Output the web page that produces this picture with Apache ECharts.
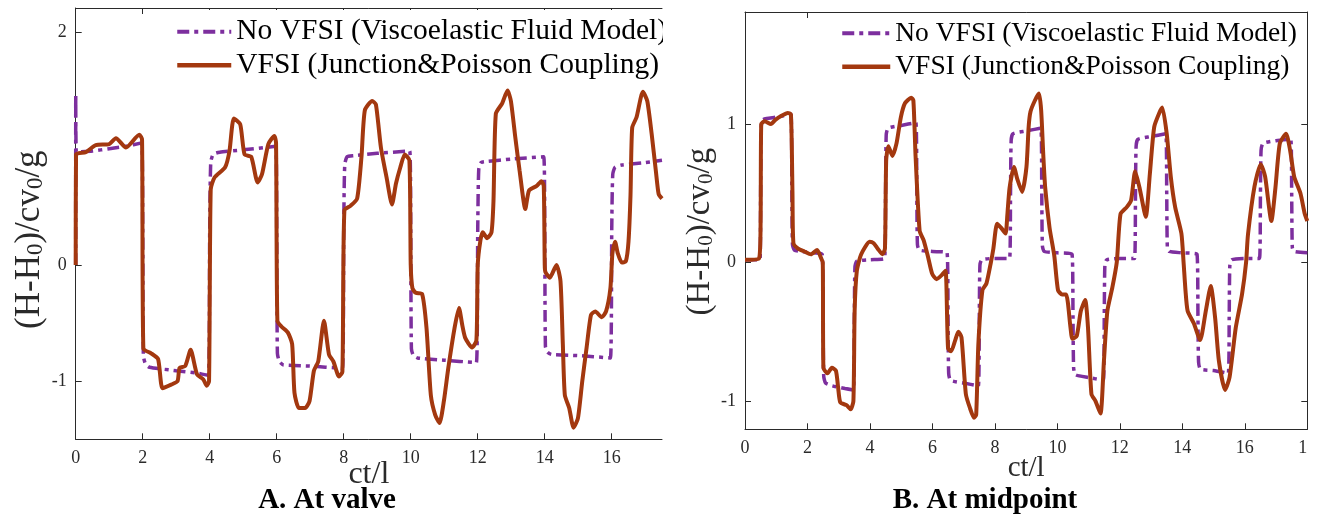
<!DOCTYPE html>
<html><head><meta charset="utf-8">
<script src="https://cdn.jsdelivr.net/npm/echarts@6/dist/echarts.min.js"></script>
<style>html,body{margin:0;padding:0;background:#fff}#c{width:1318px;height:520px}</style>
</head><body><div id="c"></div>
<script>
// ---- data: [ct/l, (H-H0)/cv0/g] ----
const seriesNames = ['No VFSI (Viscoelastic Fluid Model)', 'VFSI (Junction&Poisson Coupling)'];
const panelTitles = ['A. At valve', 'B. At midpoint'];
const xTicksValve = [0, 2, 4, 6, 8, 10, 12, 14, 16];
const xTicksMid = [0, 2, 4, 6, 8, 10, 12, 14, 16, 18];
const yTicksValve = [-1, 0, 2];
const yTicksMid = [-1, 0, 1];

const valveNoVfsi = [[0,0],[0.001,1.47],[0.02,0.97],[0.5,0.98],[1.0,1.0],[1.5,1.02],[1.97,1.05],
 [2.0,0.3],[2.02,-0.78],[2.08,-0.85],[2.2,-0.88],[3.0,-0.91],[3.6,-0.93],[3.96,-0.95],
 [4.0,0.3],[4.03,0.88],[4.1,0.95],[4.3,0.97],[5.0,0.99],[5.97,1.02],
 [6.0,0.3],[6.02,-0.76],[6.08,-0.83],[6.2,-0.86],[7.0,-0.87],[7.96,-0.89],
 [8.0,0.3],[8.03,0.86],[8.1,0.93],[8.3,0.94],[9.0,0.96],[9.97,0.98],
 [10.0,0.3],[10.02,-0.72],[10.08,-0.78],[10.2,-0.8],[11.0,-0.82],[11.96,-0.84],
 [12.0,0.3],[12.03,0.82],[12.1,0.88],[12.3,0.89],[13.0,0.91],[13.97,0.93],
 [14.0,0.3],[14.02,-0.7],[14.08,-0.75],[14.2,-0.77],[15.0,-0.78],[15.96,-0.8],
 [16.0,0.3],[16.03,0.78],[16.1,0.84],[16.3,0.86],[17.0,0.88],[17.5,0.9]];

const valveVfsi = [[0,0],[0.01,0.95],[0.3,0.97],[0.6,1.03],[1.0,1.04],[1.2,1.09],[1.5,1.01],[1.9,1.12],[1.98,1.08],
 [2.02,-0.72],[2.25,-0.76],[2.46,-0.81],[2.59,-1.06],[2.85,-1.03],[3.04,-1.0],[3.1,-0.885],[3.27,-0.87],[3.43,-0.73],[3.62,-0.94],[3.81,-0.985],[3.91,-1.04],[3.98,-1.0],
 [4.03,0.65],[4.14,0.75],[4.46,0.84],[4.59,0.98],[4.72,1.26],[4.91,1.21],[5.04,0.95],[5.24,0.93],[5.43,0.71],[5.56,0.78],[5.75,1.04],[5.93,1.11],[5.98,1.05],
 [6.02,-0.48],[6.14,-0.53],[6.33,-0.58],[6.46,-0.68],[6.53,-1.1],[6.66,-1.23],[6.85,-1.23],[6.98,-1.17],[7.11,-0.91],[7.24,-0.83],[7.41,-0.48],[7.56,-0.77],[7.69,-0.83],[7.86,-0.96],[7.96,-0.92],
 [8.02,0.47],[8.21,0.51],[8.4,0.57],[8.53,0.93],[8.63,1.33],[8.85,1.41],[8.96,1.38],[9.11,1.01],[9.28,0.75],[9.44,0.52],[9.56,0.7],[9.69,0.84],[9.82,0.95],[9.96,0.9],
 [10.0,0.0],[10.05,-0.2],[10.15,-0.24],[10.34,-0.25],[10.47,-0.54],[10.6,-1.12],[10.73,-1.29],[10.86,-1.36],[10.99,-1.17],[11.12,-0.89],[11.31,-0.54],[11.44,-0.37],[11.54,-0.52],[11.63,-0.63],[11.83,-0.71],[11.96,-0.65],
 [12.0,0.0],[12.08,0.21],[12.15,0.28],[12.28,0.23],[12.41,0.28],[12.47,0.55],[12.54,1.3],[12.73,1.39],[12.89,1.5],[12.99,1.41],[13.12,1.1],[13.25,0.81],[13.42,0.48],[13.53,0.64],[13.76,0.68],[13.9,0.72],[13.97,0.68],
 [14.0,0.0],[14.02,-0.06],[14.15,-0.11],[14.35,0.0],[14.47,-0.14],[14.54,-0.68],[14.6,-1.12],[14.73,-1.23],[14.86,-1.4],[14.99,-1.32],[15.12,-1.0],[15.25,-0.71],[15.38,-0.43],[15.51,-0.4],[15.7,-0.45],[15.83,-0.4],[15.96,-0.2],
 [16.02,0.1],[16.1,0.2],[16.18,0.1],[16.3,0.02],[16.42,0.03],[16.5,0.2],[16.56,0.6],[16.61,1.18],[16.74,1.27],[16.93,1.49],[17.06,1.41],[17.19,1.13],[17.32,0.8],[17.4,0.61],[17.5,0.57]];

const midNoVfsi = [[0,0.02],[0.48,0.02],[0.5,0.5],[0.52,0.98],[0.56,1.03],[0.7,1.04],[1.0,1.05],[1.47,1.07],
 [1.5,0.5],[1.52,0.13],[1.58,0.09],[1.8,0.08],[2.2,0.07],[2.47,0.06],
 [2.5,-0.4],[2.52,-0.82],[2.58,-0.87],[2.8,-0.89],[3.2,-0.91],[3.47,-0.92],
 [3.5,-0.4],[3.52,-0.03],[3.58,0.01],[4.0,0.02],[4.47,0.03],
 [4.5,0.5],[4.52,0.92],[4.58,0.97],[5.0,0.99],[5.47,1.01],
 [5.5,0.5],[5.52,0.13],[5.58,0.09],[6.0,0.08],[6.47,0.07],
 [6.5,-0.4],[6.52,-0.8],[6.58,-0.85],[7.0,-0.87],[7.47,-0.89],
 [7.5,-0.4],[7.52,-0.02],[7.58,0.02],[8.0,0.03],[8.47,0.03],
 [8.5,0.5],[8.52,0.88],[8.58,0.93],[9.0,0.95],[9.47,0.97],
 [9.5,0.5],[9.52,0.12],[9.58,0.08],[10.0,0.07],[10.47,0.06],
 [10.5,-0.4],[10.52,-0.76],[10.58,-0.81],[11.0,-0.83],[11.47,-0.85],
 [11.5,-0.4],[11.52,-0.02],[11.58,0.02],[12.0,0.03],[12.47,0.03],
 [12.5,0.5],[12.52,0.84],[12.58,0.89],[13.0,0.91],[13.47,0.93],
 [13.5,0.5],[13.52,0.11],[13.58,0.08],[14.0,0.07],[14.47,0.06],
 [14.5,-0.4],[14.52,-0.72],[14.58,-0.77],[15.0,-0.78],[15.47,-0.8],
 [15.5,-0.4],[15.52,-0.02],[15.58,0.02],[16.0,0.03],[16.47,0.03],
 [16.5,0.5],[16.52,0.81],[16.58,0.86],[17.0,0.88],[17.47,0.89],
 [17.5,0.5],[17.52,0.11],[17.58,0.08],[18.0,0.07]];

const midVfsi = [[0,0.02],[0.45,0.03],[0.5,0.3],[0.52,1.0],[0.63,1.02],[0.83,1.0],[0.97,1.03],[1.17,1.06],[1.37,1.08],[1.47,1.07],
 [1.52,0.5],[1.55,0.14],[1.7,0.1],[1.9,0.08],[2.11,0.06],[2.31,0.09],[2.44,0.03],[2.49,0.0],
 [2.51,-0.76],[2.64,-0.8],[2.78,-0.76],[2.91,-0.78],[2.98,-0.9],[3.05,-1.01],[3.25,-1.03],[3.38,-1.06],[3.47,-1.0],
 [3.51,-0.35],[3.58,-0.06],[3.72,0.06],[3.99,0.15],[4.12,0.14],[4.25,0.1],[4.4,0.06],[4.48,0.1],
 [4.52,0.74],[4.59,0.84],[4.72,0.77],[4.85,0.86],[4.99,1.05],[5.12,1.15],[5.32,1.19],[5.39,1.17],[5.46,0.77],[5.59,0.23],[5.72,0.16],[5.86,0.04],[5.99,-0.08],[6.13,-0.12],[6.3,-0.09],[6.42,-0.06],
 [6.5,-0.62],[6.6,-0.64],[6.73,-0.56],[6.83,-0.5],[6.93,-0.54],[7.07,-0.95],[7.2,-1.05],[7.33,-1.12],[7.4,-1.1],[7.47,-0.59],[7.6,-0.2],[7.73,-0.15],[7.87,0.0],[7.95,0.1],
 [8.07,0.28],[8.2,0.25],[8.34,0.21],[8.4,0.35],[8.47,0.54],[8.61,0.69],[8.72,0.6],[8.87,0.51],[9.01,0.69],[9.08,0.98],[9.14,1.09],[9.28,1.17],[9.41,1.22],[9.48,1.1],[9.55,0.77],[9.61,0.54],[9.75,0.25],[9.9,0.05],
 [10.02,-0.2],[10.15,-0.23],[10.28,-0.23],[10.42,-0.47],[10.48,-0.55],[10.62,-0.53],[10.75,-0.35],[10.89,-0.27],[10.98,-0.47],[11.09,-0.95],[11.22,-1.0],[11.38,-1.09],[11.49,-0.71],[11.6,-0.35],[11.76,-0.18],[11.9,0.0],
 [12.02,0.35],[12.22,0.4],[12.36,0.45],[12.49,0.66],[12.63,0.54],[12.83,0.33],[12.96,0.64],[13.1,0.98],[13.3,1.1],[13.36,1.12],[13.5,0.93],[13.63,0.62],[13.77,0.4],[13.97,0.21],
 [14.04,0.0],[14.1,-0.2],[14.17,-0.35],[14.37,-0.44],[14.57,-0.56],[14.75,-0.35],[14.91,-0.17],[15.05,-0.4],[15.17,-0.71],[15.37,-0.92],[15.51,-0.83],[15.71,-0.47],[15.91,-0.23],
 [16.04,0.0],[16.1,0.2],[16.31,0.55],[16.51,0.71],[16.65,0.62],[16.85,0.3],[16.98,0.54],[17.12,0.86],[17.32,0.93],[17.45,0.81],[17.58,0.62],[17.78,0.5],[17.92,0.35],[18.0,0.3]];

// ---- styling ----
const F = "'Liberation Serif','Times New Roman',serif";
const AX = '#2a2a2a';
const PURPLE = '#7D2F9E';
const BROWN = '#A3380F';
const PURPLE_DASH = [12, 5, 4, 5];

function yName(main, sub) {
  return {
    fontFamily: F, color: AX,
    rich: {
      m: { fontFamily: F, color: AX, fontSize: main, lineHeight: main + 5, verticalAlign: 'bottom' },
      s: { fontFamily: F, color: AX, fontSize: sub, lineHeight: sub, verticalAlign: 'bottom' }
    }
  };
}
const yNameText = '{m|(H-H}{s|0}{m|)/cv}{s|0}{m|/g}';

function xAx(grid, max, ticks, pos, nameGap, nameSize) {
  const a = {
    gridIndex: grid, type: 'value', min: 0, max: max, position: pos,
    axisLine: { show: true, onZero: false, lineStyle: { color: AX, width: 1 } },
    axisTick: { show: true, inside: true, length: 6, customValues: ticks, lineStyle: { color: AX, width: 1 } },
    axisLabel: { show: pos === 'bottom', customValues: ticks, margin: 10, fontFamily: F, fontSize: 18, color: AX },
    splitLine: { show: false }
  };
  if (pos === 'bottom') {
    a.name = 'ct/l'; a.nameLocation = 'middle'; a.nameGap = nameGap; a.nameMoveOverlap = false;
    a.nameTextStyle = { fontFamily: F, fontSize: nameSize, color: AX };
  }
  return a;
}
function yAx(grid, min, max, ticks, pos, nameGap, mainSize, subSize, shift) {
  const a = {
    gridIndex: grid, type: 'value', min: min, max: max, position: pos,
    axisLine: { show: true, onZero: false, lineStyle: { color: AX, width: 1 } },
    axisTick: { show: true, inside: true, length: 6, customValues: ticks, lineStyle: { color: AX, width: 1 } },
    axisLabel: { show: pos === 'left', customValues: ticks, margin: 9, fontFamily: F, fontSize: 18, color: AX },
    splitLine: { show: false }
  };
  if (pos === 'left') {
    a.name = yNameText; a.nameLocation = 'middle'; a.nameGap = nameGap; a.nameMoveOverlap = false;
    a.nameTextStyle = Object.assign(yName(mainSize, subSize), { padding: [0, shift, 0, 0] });
  }
  return a;
}
function lineSeries(name, data, xi, yi, color, width, dash, z) {
  return {
    type: 'line', name: name, data: data, xAxisIndex: xi, yAxisIndex: yi,
    symbol: 'none', showSymbol: false, smooth: 0.2, z: z,
    lineStyle: { color: color, width: width, type: dash },
    itemStyle: { color: color }, emphasis: { disabled: true }
  };
}
const legendIconStyle = { color: 'rgba(0,0,0,0)', borderColor: 'rgba(0,0,0,0)', borderWidth: 0, opacity: 0 };
const legendData = [
  { name: seriesNames[0], lineStyle: { color: PURPLE, width: 4, type: PURPLE_DASH } },
  { name: seriesNames[1], lineStyle: { color: BROWN, width: 4.5, type: 'solid' } }
];

const chart = echarts.init(document.getElementById('c'), null, { renderer: 'canvas' });
chart.setOption({
  animation: false,
  backgroundColor: '#fff',
  grid: [
    { left: 75.7, top: 8, width: 586.3, height: 431.3, outerBoundsMode: 'none' },
    { left: 745, top: 12, width: 562.3, height: 417.3, outerBoundsMode: 'none' }
  ],
  xAxis: [
    xAx(0, 17.5, xTicksValve, 'bottom', 19, 32),
    xAx(0, 17.5, xTicksValve, 'top'),
    xAx(1, 18, xTicksMid, 'bottom', 25, 29),
    xAx(1, 18, xTicksMid, 'top')
  ],
  yAxis: [
    yAx(0, -1.5, 2.21, yTicksValve, 'left', 28, 35, 23, 32),
    yAx(1, -1.204, 1.809, yTicksMid, 'left', 28, 33, 21, 22),
    yAx(1, -1.204, 1.809, yTicksMid, 'right')
  ],
  legend: [
    { orient: 'vertical', left: 171, top: 10, padding: [6.7, 4, 4, 4], backgroundColor: '#fff',
      itemWidth: 54, itemHeight: 14, itemGap: 3.5, selectedMode: false, data: legendData,
      itemStyle: legendIconStyle,
      textStyle: { fontFamily: F, fontSize: 29.5, color: '#000', lineHeight: 30 } },
    { orient: 'vertical', left: 836, top: 13, padding: [5.3, 2, 4, 4], backgroundColor: '#fff',
      itemWidth: 48, itemHeight: 14, itemGap: 3.5, selectedMode: false, data: legendData,
      itemStyle: legendIconStyle,
      textStyle: { fontFamily: F, fontSize: 27.5, color: '#000', lineHeight: 30 } }
  ],
  title: [
    { text: panelTitles[0], left: 327, top: 486, textAlign: 'center', padding: 0,
      textStyle: { fontFamily: F, fontSize: 29, fontWeight: 'bold', color: '#000' } },
    { text: panelTitles[1], left: 985, top: 486, textAlign: 'center', padding: 0,
      textStyle: { fontFamily: F, fontSize: 29, fontWeight: 'bold', color: '#000' } }
  ],
  graphic: [
    { type: 'rect', z: 100, shape: { x: 663, y: 0, width: 28, height: 100 }, style: { fill: '#fff' } },
    { type: 'rect', z: 100, shape: { x: 1307.8, y: 432, width: 11, height: 40 }, style: { fill: '#fff' } }
  ],
  series: [
    lineSeries(seriesNames[0], valveNoVfsi, 0, 0, PURPLE, 3.5, PURPLE_DASH, 2),
    lineSeries(seriesNames[1], valveVfsi, 0, 0, BROWN, 4, 'solid', 3),
    lineSeries(seriesNames[0], midNoVfsi, 2, 1, PURPLE, 3.5, PURPLE_DASH, 2),
    lineSeries(seriesNames[1], midVfsi, 2, 1, BROWN, 4, 'solid', 3)
  ]
});
</script>
</body></html>
